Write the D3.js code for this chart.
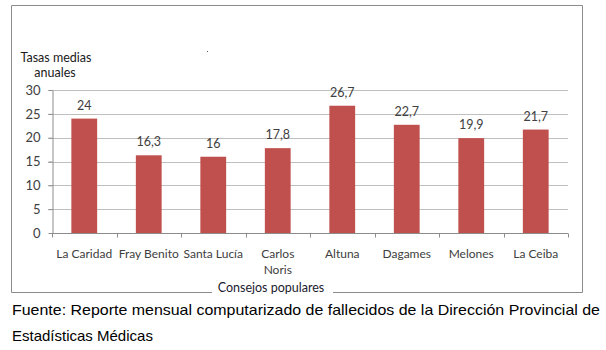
<!DOCTYPE html>
<html><head><meta charset="utf-8">
<script src="https://cdn.jsdelivr.net/npm/d3@7"></script>
<style>body{margin:0;background:#fff}svg{display:block}</style>
</head><body>
<svg id="c" width="606" height="350"></svg>
<script>
const categories = ["La Caridad","Fray Benito","Santa Lucía","Carlos Noris","Altuna","Dagames","Melones","La Ceiba"];
const values = [24,16.3,16,17.8,26.7,22.7,19.9,21.7];
const valueLabels = ["24","16,3","16","17,8","26,7","22,7","19,9","21,7"];
const yTicks = [0,5,10,15,20,25,30];

const svg = d3.select("#c");
const font = "Lato, 'Open Sans', sans-serif";
const txt = "#404040";

// frame
const fx0=11.5, fy0=5.5, fx1=582.5, fy1=292.5;
svg.append("path").attr("fill","none").attr("stroke","#8c8c8c").attr("stroke-width",1)
  .attr("d",`M212,${fy1}H${fx0}V${fy0}H${fx1}V${fy1}H333`);

const x = d3.scaleBand().domain(categories).range([52,568]).paddingInner(0.6).paddingOuter(0.3);
const y = d3.scaleLinear().domain([0,30]).range([233,90]);

// gridlines
svg.append("g").selectAll("line").data(yTicks.filter(d=>d>0)).join("line")
  .attr("x1",48).attr("x2",568).attr("y1",d=>Math.round(y(d))+0.5).attr("y2",d=>Math.round(y(d))+0.5)
  .attr("stroke","#bfbfbf");

// bars
svg.append("g").selectAll("rect").data(values).join("rect")
  .attr("x",(d,i)=>x(categories[i])).attr("width",x.bandwidth())
  .attr("y",d=>y(d)).attr("height",d=>y(0)-y(d))
  .attr("fill","#c0504d");

// value labels
svg.append("g").selectAll("text").data(values).join("text")
  .attr("x",(d,i)=>x(categories[i])+x.bandwidth()/2).attr("y",d=>y(d)-9)
  .attr("text-anchor","middle").attr("font-family",font).attr("font-size",12.5).attr("fill",txt)
  .text((d,i)=>valueLabels[i]);

// y axis
const ya = svg.append("g").attr("transform","translate(52.5,0)")
  .call(d3.axisLeft(y).tickValues(yTicks).tickSize(4).tickSizeOuter(0).tickPadding(8));
ya.select(".domain").attr("stroke","#8c8c8c");
ya.selectAll(".tick line").attr("stroke","#8c8c8c");
ya.selectAll("text").attr("font-family",font).attr("font-size",13).attr("fill",txt);

// x axis
const xb = d3.scaleLinear().domain([0,categories.length]).range([52,568]);
const xa = svg.append("g").attr("transform",`translate(0,${Math.round(y(0))+0.5})`);
xa.append("line").attr("x1",52).attr("x2",568).attr("stroke","#8c8c8c");
xa.selectAll("line.t").data(d3.range(categories.length+1)).join("line").attr("class","t")
  .attr("x1",d=>Math.round(xb(d))+0.5).attr("x2",d=>Math.round(xb(d))+0.5).attr("y1",0).attr("y2",4)
  .attr("stroke","#8c8c8c");
const cl = svg.append("g").selectAll("text").data(categories).join("text")
  .attr("x",d=>x(d)+x.bandwidth()/2).attr("y",258)
  .attr("text-anchor","middle").attr("font-family",font).attr("font-size",12).attr("fill",txt);
cl.each(function(d){
  const t=d3.select(this);
  const parts = d==="Carlos Noris" ? ["Carlos","Noris"] : [d];
  parts.forEach((p,i)=>t.append("tspan").attr("x",t.attr("x")).attr("dy",i?16:0).text(p));
});

// axis titles
svg.append("text").attr("x",56).attr("y",62).attr("text-anchor","middle")
  .attr("font-family",font).attr("font-size",12.5).attr("fill","#1a1a1a").text("Tasas medias");
svg.append("text").attr("x",55).attr("y",77).attr("text-anchor","middle")
  .attr("font-family",font).attr("font-size",12.5).attr("fill","#1a1a1a").text("anuales");
svg.append("text").attr("x",271).attr("y",292).attr("text-anchor","middle")
  .attr("font-family",font).attr("font-size",12.5).attr("fill","#1a1a2e").text("Consejos populares");
svg.append("rect").attr("x",207).attr("y",51).attr("width",1).attr("height",1).attr("fill","#555");

// source
svg.append("text").attr("x",12).attr("y",315).attr("font-family","'Liberation Sans', Arial, sans-serif")
  .attr("font-size",15).attr("fill","#000").attr("textLength",588).attr("lengthAdjust","spacingAndGlyphs")
  .text("Fuente: Reporte mensual computarizado de fallecidos de la Dirección Provincial de");
svg.append("text").attr("x",12).attr("y",341).attr("font-family","'Liberation Sans', Arial, sans-serif")
  .attr("font-size",15).attr("fill","#000").text("Estadísticas Médicas");
</script>
</body></html>
